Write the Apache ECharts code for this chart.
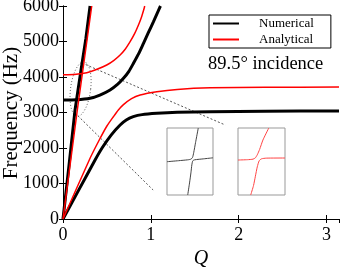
<!DOCTYPE html>
<html><head><meta charset="utf-8">
<script src="https://cdn.jsdelivr.net/npm/echarts@6/dist/echarts.min.js"></script>
<style>html,body{margin:0;padding:0;background:#fff}#c{width:341px;height:268px}</style>
</head><body><div id="c"></div>
<script>
// ---- data ----
const legendNames = ['Numerical', 'Analytical'];
const xRange = [0, 3.1416];
const xStep = 1;
const yRange = [0, 6000];
const yStep = 1000;
const xTitle = 'Q';
const yTitle = 'Frequency (Hz)';
const annotationText = '89.5\u00b0 incidence';

const numSteep = [[0,0],[0.068,1500],[0.137,3070],[0.2,4110],[0.26,5080],[0.308,6000]];
const numUpper = [[0,3350],[0.15,3358],[0.308,3400],[0.42,3490],[0.536,3634],[0.62,3790],[0.688,3963],[0.75,4160],[0.802,4386],[0.86,4650],[0.916,4949],[0.97,5240],[1.03,5558],[1.106,5980],[1.11,6000]];
const numLower = [[0,0],[0.18,820],[0.365,1662],[0.45,2020],[0.55,2370],[0.65,2648],[0.72,2790],[0.8,2882],[0.9,2940],[1.068,2977],[1.3,3005],[1.676,3022],[2.3,3038],[3.1416,3045]];

const anaSteep = [[0,0],[0.163,3070],[0.327,6000]];
const anaUpper = [[0,4060],[0.15,4080],[0.27,4121],[0.38,4210],[0.498,4338],[0.58,4470],[0.65,4620],[0.71,4790],[0.764,4995],[0.815,5220],[0.859,5465],[0.895,5700],[0.924,5935],[0.93,6000]];
const anaLower = [[0,0],[0.308,1710],[0.42,2260],[0.5,2620],[0.574,2882],[0.63,3070],[0.688,3220],[0.78,3390],[0.878,3493],[1.068,3586],[1.3,3650],[1.676,3695],[2.3,3710],[3.1416,3715]];

const insetNumUpper = [[0,0.497],[0.25,0.512],[0.45,0.525],[0.52,0.535],[0.555,0.56],[0.58,0.63],[0.62,0.78],[0.68,1.0]];
const insetNumLower = [[0.45,0],[0.49,0.18],[0.52,0.33],[0.54,0.45],[0.56,0.51],[0.6,0.525],[0.8,0.54],[1,0.555]];
const insetAnaUpper = [[0,0.522],[0.2,0.527],[0.32,0.535],[0.37,0.555],[0.41,0.6],[0.46,0.68],[0.53,0.82],[0.655,1.0]];
const insetAnaLower = [[0.27,0],[0.33,0.14],[0.37,0.28],[0.41,0.42],[0.45,0.51],[0.5,0.54],[0.6,0.55],[1,0.552]];

const calloutUpper = [[0.217,4394],[1.847,2648]];
const calloutLower = [[0.137,2986],[1.026,817]];
const ellipseCenter = [0.2, 3660];
const ellipseRadii = [0.115, 770];
const ellipseShear = 0.035;

// ---- build ----
const ellipsePts = [];
for (let i = 0; i <= 60; i++) {
  const t = i / 60 * 2 * Math.PI;
  ellipsePts.push([ellipseCenter[0] + ellipseRadii[0] * Math.cos(t) + ellipseShear * Math.sin(t),
                   ellipseCenter[1] + ellipseRadii[1] * Math.sin(t)]);
}

const serif = 'Liberation Serif';
const BLACK = '#000000', RED = '#ff0000';

function curve(name, data, color, width, xi, yi, smooth) {
  return { name, type: 'line', data, xAxisIndex: xi, yAxisIndex: yi, showSymbol: false, symbol: 'none',
    smooth: smooth, lineStyle: { color, width }, itemStyle: { color }, silent: true, animation: false };
}
function deco(name, data, color, type) {
  return { name, type: 'line', data, xAxisIndex: 0, yAxisIndex: 0, showSymbol: false, symbol: 'none',
    smooth: false, lineStyle: { color, width: 1, type }, silent: true, animation: false, z: 1 };
}

const chart = echarts.init(document.getElementById('c'), null, { renderer: 'canvas' });
const axisBase = {
  type: 'value', axisLine: { show: true, lineStyle: { color: '#000', width: 1 } },
  axisTick: { show: true, inside: true, length: 4, lineStyle: { color: '#000' } },
  splitLine: { show: false }
};
const plain = v => String(v);
chart.setOption({
  animation: false,
  backgroundColor: '#fff',
  textStyle: { fontFamily: serif },
  grid: [
    { left: 63, top: 6, right: 2, bottom: 49, containLabel: false, outerBoundsMode: 'none' },
    { left: 167, top: 128, width: 46, height: 67, show: true, borderColor: '#999', borderWidth: 1, backgroundColor: 'rgba(0,0,0,0)', outerBoundsMode: 'none' },
    { left: 238, top: 128, width: 47, height: 67, show: true, borderColor: '#999', borderWidth: 1, backgroundColor: 'rgba(0,0,0,0)', outerBoundsMode: 'none' }
  ],
  xAxis: [
    Object.assign({}, axisBase, { gridIndex: 0, min: xRange[0], max: xRange[1], interval: xStep, position: 'bottom',
      name: xTitle, nameLocation: 'middle', nameGap: 25,
      nameTextStyle: { fontFamily: serif, fontSize: 20, fontStyle: 'italic', color: '#000' },
      axisLabel: { fontFamily: serif, fontSize: 18, color: '#000', margin: 7, showMaxLabel: false, formatter: plain } }),
    Object.assign({}, axisBase, { gridIndex: 0, min: xRange[0], max: xRange[1], interval: xStep, position: 'top',
      axisLabel: { show: false } }),
    { type: 'value', gridIndex: 1, min: 0, max: 1, show: false },
    { type: 'value', gridIndex: 2, min: 0, max: 1, show: false }
  ],
  yAxis: [
    Object.assign({}, axisBase, { gridIndex: 0, min: yRange[0], max: yRange[1], interval: yStep, position: 'left',
      axisLabel: { fontFamily: serif, fontSize: 18, color: '#000', margin: 4, formatter: plain } }),
    Object.assign({}, axisBase, { gridIndex: 0, min: yRange[0], max: yRange[1], interval: yStep, position: 'right',
      axisLabel: { show: false } }),
    { type: 'value', gridIndex: 1, min: 0, max: 1, show: false },
    { type: 'value', gridIndex: 2, min: 0, max: 1, show: false }
  ],
  legend: {
    data: legendNames, orient: 'vertical', left: 209, top: 15,
    borderColor: '#000', borderWidth: 1, borderRadius: 0, backgroundColor: '#fff',
    padding: [2, 17, 2, 3], itemGap: 3, itemWidth: 26, itemHeight: 12,
    itemStyle: { opacity: 0, borderWidth: 0 },
    textStyle: { fontFamily: serif, fontSize: 13, color: '#000', padding: [0, 0, 0, 15] },
    selectedMode: false
  },
  series: [
    deco('callout1', calloutUpper, '#555', [2, 2]),
    deco('callout2', calloutLower, '#555', [2, 2]),
    deco('ellipse', ellipsePts, '#666', [1, 2]),
    curve(legendNames[0], numSteep, BLACK, 3, 0, 0, false),
    curve(legendNames[0], numUpper, BLACK, 3, 0, 0, 0.2),
    curve(legendNames[0], numLower, BLACK, 3, 0, 0, 0.2),
    curve(legendNames[1], anaSteep, RED, 1.5, 0, 0, false),
    curve(legendNames[1], anaUpper, RED, 1.5, 0, 0, 0.2),
    curve(legendNames[1], anaLower, RED, 1.5, 0, 0, 0.2),
    curve('insetNum1', insetNumUpper, '#444', 1, 2, 2, 0.2),
    curve('insetNum2', insetNumLower, '#444', 1, 2, 2, 0.2),
    curve('insetAna1', insetAnaUpper, '#ff4444', 1, 3, 3, 0.2),
    curve('insetAna2', insetAnaLower, '#ff4444', 1, 3, 3, 0.2)
  ],
  graphic: [
    { type: 'text', x: 208, y: 64, silent: true,
      style: { text: annotationText, font: '18.5px "Liberation Serif"', fill: '#000', verticalAlign: 'middle', align: 'left' } },
    { type: 'text', x: 11, y: 113, rotation: Math.PI / 2, silent: true,
      style: { text: yTitle, font: '21px "Liberation Serif"', fill: '#000', verticalAlign: 'middle', align: 'center' } }
  ]
});
</script>
</body></html>
